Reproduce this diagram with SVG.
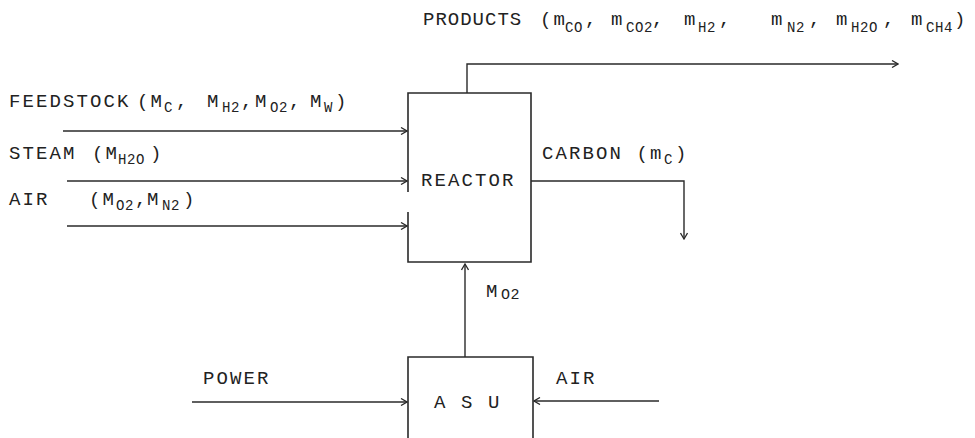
<svg xmlns="http://www.w3.org/2000/svg" width="975" height="438" viewBox="0 0 975 438">
<style>
.t{font-family:"Liberation Mono","DejaVu Sans Mono",monospace;font-size:19px;letter-spacing:2.1px;fill:#222}
.p{letter-spacing:1px}
.s{font-size:14px;letter-spacing:0.6px}
.ln{fill:none;stroke:#2a2a2a;stroke-width:1.4}
.box{fill:none;stroke:#2a2a2a;stroke-width:1.6}
</style>
<defs>
<marker id="ah" viewBox="0 0 8 8" refX="7" refY="4" markerWidth="8" markerHeight="8" markerUnits="userSpaceOnUse" orient="auto">
<path d="M1,0.5 L7,4 L1,7.5" fill="none" stroke="#2a2a2a" stroke-width="1.3"/>
</marker>
</defs>
<rect width="975" height="438" fill="#fff"/>
<g id="node-reactor">
<path class="box" d="M408,192 V93 H531 V262 H408 V212"/>
<text class="t" x="421" y="186">REACTOR</text>
</g>
<g id="node-asu">
<path class="box" d="M408,438 V357 H533 V438"/>
<text class="t" x="434" y="408">A S U</text>
</g>
<g id="connectors">
<path class="ln" d="M467,93 V64 H898" marker-end="url(#ah)"/>
<path class="ln" d="M63,131 H407" marker-end="url(#ah)"/>
<path class="ln" d="M67,181 H407" marker-end="url(#ah)"/>
<path class="ln" d="M67,226 H407" marker-end="url(#ah)"/>
<path class="ln" d="M531,181 H684 V239" marker-end="url(#ah)"/>
<path class="ln" d="M465,357 V264" marker-end="url(#ah)"/>
<path class="ln" d="M192,402 H407" marker-end="url(#ah)"/>
<path class="ln" d="M659,401 H534" marker-end="url(#ah)"/>
</g>
<g id="labels">
<text class="t"><tspan class="p" x="423" y="25">PRODUCTS</tspan><tspan x="540" y="25">(m</tspan><tspan class="s" x="565" y="32">CO</tspan><tspan x="585" y="25">,</tspan><tspan x="611" y="25">m</tspan><tspan class="s" x="626" y="32">CO2</tspan><tspan x="652" y="25">,</tspan><tspan x="684" y="25">m</tspan><tspan class="s" x="698" y="32">H2</tspan><tspan x="719" y="25">,</tspan><tspan x="771" y="25">m</tspan><tspan class="s" x="787" y="32">N2</tspan><tspan x="809" y="25">,</tspan><tspan x="836" y="25">m</tspan><tspan class="s" x="851" y="32">H2O</tspan><tspan x="883" y="25">,</tspan><tspan x="911" y="25">m</tspan><tspan class="s" x="926" y="32">CH4</tspan><tspan x="954" y="25">)</tspan></text>
<text class="t"><tspan x="9" y="107">FEEDSTOCK</tspan><tspan x="137" y="107">(M</tspan><tspan class="s" x="164" y="112">C</tspan><tspan x="176" y="107">,</tspan><tspan x="207" y="107">M</tspan><tspan class="s" x="222" y="112">H2</tspan><tspan x="241" y="107">,</tspan><tspan x="255" y="107">M</tspan><tspan class="s" x="270" y="112">O2</tspan><tspan x="289" y="107">,</tspan><tspan x="310" y="107">M</tspan><tspan class="s" x="324" y="112">W</tspan><tspan x="335" y="107">)</tspan></text>
<text class="t"><tspan x="9" y="159">STEAM</tspan><tspan x="92" y="159">(M</tspan><tspan class="s" x="118" y="164">H2O</tspan><tspan x="150" y="159">)</tspan></text>
<text class="t"><tspan x="9" y="205">AIR</tspan><tspan x="89" y="205">(M</tspan><tspan class="s" x="116" y="210">O2</tspan><tspan x="135" y="205">,</tspan><tspan x="147" y="205">M</tspan><tspan class="s" x="162" y="210">N2</tspan><tspan x="183" y="205">)</tspan></text>
<text class="t"><tspan x="542" y="159">CARBON (m</tspan><tspan class="s" x="664" y="164">C</tspan><tspan x="675" y="159">)</tspan></text>
<text class="t"><tspan x="486" y="297">M</tspan><tspan class="s" x="501" y="299" style="font-size:15px">O2</tspan></text>
<text class="t" x="203" y="384">POWER</text>
<text class="t" x="556" y="384">AIR</text>
</g>
</svg>
